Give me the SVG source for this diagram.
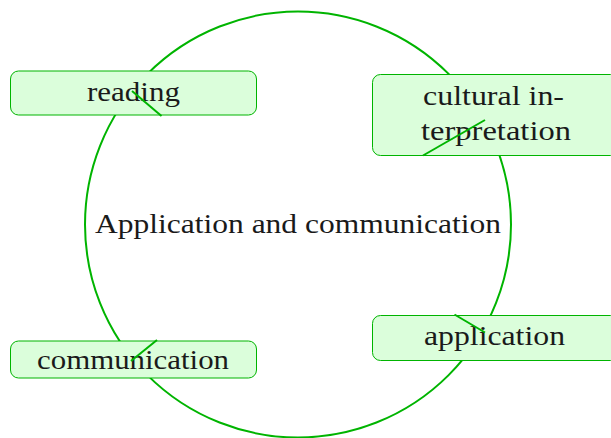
<svg xmlns="http://www.w3.org/2000/svg" width="611" height="438" viewBox="0 0 611 438">
<style>
.node rect{fill:#dbfedb;stroke:#00b400;stroke-width:1}
text{font-size:28px;fill:#1a1a1a;text-anchor:middle}
.conn line{stroke:#00b400;stroke-width:2;stroke-linecap:butt}
</style>
<rect width="611" height="438" fill="#ffffff"/>
<g id="center">
<circle cx="298" cy="224.5" r="213" fill="none" stroke="#00b400" stroke-width="2"/>
<text x="298" y="233" font-family="'Liberation Serif', 'Times New Roman', serif" textLength="406" lengthAdjust="spacingAndGlyphs">Application and communication</text>
</g>
<g id="reading" class="node">
<rect x="10.5" y="71" width="246" height="44" rx="8"/>
<text x="133.5" y="100.5" font-family="'Liberation Serif', 'Times New Roman', serif" textLength="93" lengthAdjust="spacingAndGlyphs">reading</text>
</g>
<g id="cultural" class="node">
<rect x="372.5" y="74.5" width="246" height="81" rx="8"/>
<text x="493.5" y="104.5" font-family="'Liberation Serif', 'Times New Roman', serif" textLength="141" lengthAdjust="spacingAndGlyphs">cultural in-</text>
<text x="496" y="140" font-family="'Liberation Serif', 'Times New Roman', serif" textLength="150" lengthAdjust="spacingAndGlyphs">terpretation</text>
</g>
<g id="communication" class="node">
<rect x="10.5" y="341" width="246" height="37" rx="8"/>
<text x="133" y="369" font-family="'Liberation Serif', 'Times New Roman', serif" textLength="192" lengthAdjust="spacingAndGlyphs">communication</text>
</g>
<g id="application" class="node">
<rect x="372.5" y="315.5" width="246" height="45" rx="8"/>
<text x="494.5" y="345" font-family="'Liberation Serif', 'Times New Roman', serif" textLength="141" lengthAdjust="spacingAndGlyphs">application</text>
</g>
<g id="connectors" class="conn">
<line x1="132" y1="91" x2="161.5" y2="116"/>
<line x1="485" y1="120" x2="423" y2="155.5"/>
<line x1="157" y1="340" x2="131" y2="361"/>
<line x1="454.5" y1="314.5" x2="485" y2="332.5"/>
</g>
</svg>
